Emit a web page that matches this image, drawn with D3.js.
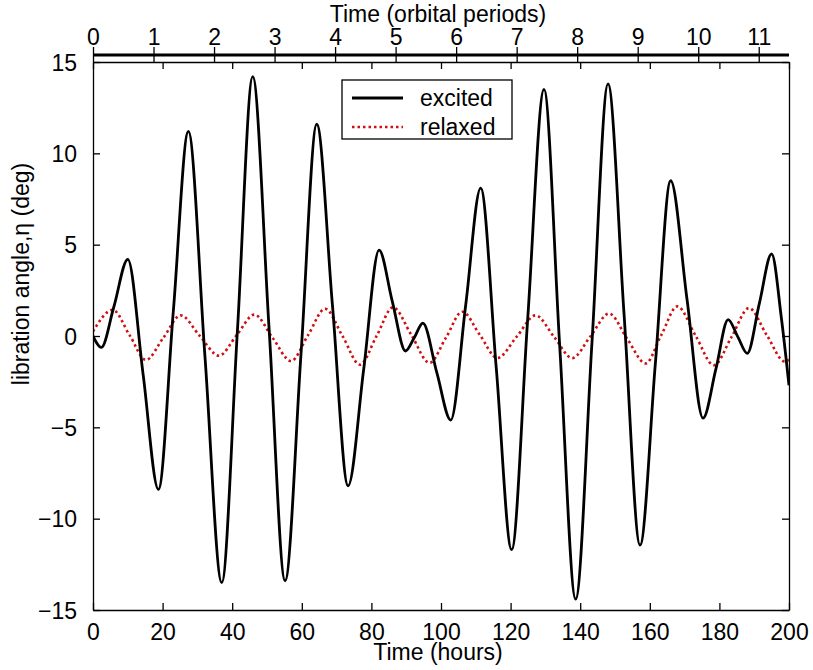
<!DOCTYPE html>
<html lang="en">
<head>
  <meta charset="UTF-8">
  <title>Libration angle</title>
  <script src="https://d3js.org/d3.v7.min.js"></script>
  <style>
    body { margin: 0; background: #fff; }
    svg { font-family: "Liberation Sans", Arial, sans-serif; }
    .axis text { font-size: 23px; fill: #000; }
    .axis path, .axis line { stroke: #000; stroke-width: 1.3px; }
    .label { font-size: 23px; fill: #000; }
  </style>
</head>
<body>
<svg width="813" height="670"></svg>
<script>
// values: [hours, degrees]
const excited = [
  [0, 0.0], [2.4, -0.62], [6.0, 1.6], [10.0, 4.2], [14.4, -2.1], [18.8, -8.4],
  [23.1, 1.4], [27.4, 11.2], [32.2, -1.2], [37.0, -13.5], [41.5, 0.3], [45.9, 14.2],
  [50.6, 0.4], [55.2, -13.4], [59.8, -0.9], [64.3, 11.6], [68.8, 1.7], [73.3, -8.2],
  [77.8, -1.8], [82.2, 4.7], [86.0, 1.9], [89.8, -0.82], [92.3, -0.1], [94.8, 0.7],
  [98.8, -2.0], [102.8, -4.6], [107.1, 1.7], [111.4, 8.1], [115.9, -1.8], [120.3, -11.7],
  [124.9, 0.9], [129.6, 13.5], [134.1, -0.5], [138.7, -14.4], [143.4, -0.3], [148.0, 13.8],
  [152.6, 1.2], [157.2, -11.45], [161.6, -1.5], [166.0, 8.5], [170.7, 2.0], [175.3, -4.5],
  [179.0, -1.8], [182.5, 0.9], [185.3, -0.05], [188.0, -0.95], [191.5, 1.8], [195.0, 4.5],
  [197.8, 1.0], [200, -2.7]
];
const relaxed = [
  [0, 0.25], [5.7, 1.43], [10.5, 0.05], [15.2, -1.31], [20.2, -0.1], [25.2, 1.13],
  [30.7, 0.0], [36.2, -1.08], [41.3, 0.05], [46.4, 1.17], [51.6, -0.1], [56.9, -1.37],
  [61.8, 0.05], [66.7, 1.49], [71.7, 0.0], [76.7, -1.57], [81.5, 0.0], [86.2, 1.57],
  [91.5, 0.05], [96.7, -1.47], [101.4, -0.1], [106.1, 1.33], [111.2, 0.05], [116.2, -1.21],
  [121.7, -0.05], [127.2, 1.13], [132.5, -0.05], [137.7, -1.21], [143.0, 0.0], [148.3, 1.23],
  [153.5, -0.15], [158.8, -1.5], [163.3, 0.05], [167.9, 1.62], [173.2, 0.0], [178.4, -1.6],
  [183.5, -0.05], [188.5, 1.53], [193.6, 0.05], [198.8, -1.4], [200, -1.3]
];
const hourTicks = [0, 20, 40, 60, 80, 100, 120, 140, 160, 180, 200];
const periodTicks = [0, 1, 2, 3, 4, 5, 6, 7, 8, 9, 10, 11];
const periodMax = 11.5;
const degTicks = [-15, -10, -5, 0, 5, 10, 15];
const seriesNames = ["excited", "relaxed"];

const svg = d3.select("svg");
const mLeft = 93, mRight = 789, mTop = 62, mBottom = 610;

const x = d3.scaleLinear().domain([0, 200]).range([mLeft, mRight]);
const xp = d3.scaleLinear().domain([0, periodMax]).range([mLeft, mRight]);
const y = d3.scaleLinear().domain([-15, 15]).range([mBottom, mTop]);

// curves
const line = d3.line().x(d => x(d[0])).y(d => y(d[1])).curve(d3.curveMonotoneX);

svg.append("clipPath").attr("id", "clip")
  .append("rect").attr("x", mLeft).attr("y", mTop)
  .attr("width", mRight - mLeft).attr("height", mBottom - mTop);

const plot = svg.append("g").attr("clip-path", "url(#clip)");
plot.append("path").datum(relaxed)
  .attr("d", line).attr("fill", "none")
  .attr("stroke", "#d01010").attr("stroke-width", 2.6)
  .attr("stroke-dasharray", "2.5,3");
plot.append("path").datum(excited)
  .attr("d", line).attr("fill", "none")
  .attr("stroke", "#000").attr("stroke-width", 2.8)
  .attr("stroke-linejoin", "round");

// box axes, ticks inside
svg.append("g").attr("class", "axis")
  .attr("transform", `translate(0,${mBottom})`)
  .call(d3.axisBottom(x).tickValues(hourTicks).tickSize(-7).tickPadding(14).tickSizeOuter(0));
svg.append("g").attr("class", "axis")
  .attr("transform", `translate(0,${mTop})`)
  .call(d3.axisTop(x).tickValues(hourTicks).tickSize(-7).tickFormat("").tickSizeOuter(0));
svg.append("g").attr("class", "axis")
  .attr("transform", `translate(${mLeft},0)`)
  .call(d3.axisLeft(y).tickValues(degTicks).tickSize(-7).tickPadding(16).tickSizeOuter(0))
  .selectAll("text").attr("dy", "0.36em");
svg.append("g").attr("class", "axis")
  .attr("transform", `translate(${mRight},0)`)
  .call(d3.axisRight(y).tickValues(degTicks).tickSize(-7).tickFormat("").tickSizeOuter(0));

// orbital period axis on top
const pAxis = svg.append("g").attr("class", "axis")
  .attr("transform", `translate(0,${mTop})`)
  .call(d3.axisTop(xp).tickValues(periodTicks).tickSize(15).tickPadding(2).tickSizeOuter(0));
pAxis.select(".domain").remove();
svg.append("line")
  .attr("x1", mLeft).attr("x2", mRight)
  .attr("y1", 55).attr("y2", 55)
  .attr("stroke", "#000").attr("stroke-width", 3);

// labels
svg.append("text").attr("class", "label")
  .attr("x", 438).attr("y", 22).attr("text-anchor", "middle")
  .text("Time (orbital periods)");
svg.append("text").attr("class", "label")
  .attr("x", 438).attr("y", 660).attr("text-anchor", "middle")
  .text("Time (hours)");
svg.append("text").attr("class", "label")
  .attr("transform", "translate(29,274) rotate(-90)")
  .attr("text-anchor", "middle")
  .text("libration angle,\u03b7 (deg)");

// legend
const legend = svg.append("g");
legend.append("rect")
  .attr("x", 342).attr("y", 80).attr("width", 170).attr("height", 59)
  .attr("fill", "#fff").attr("stroke", "#000").attr("stroke-width", 1.3);
const styles = [
  { stroke: "#000", dash: null, w: 2.8 },
  { stroke: "#d01010", dash: "2.5,3", w: 2.6 }
];
seriesNames.forEach((name, i) => {
  const ly = 98 + i * 29;
  legend.append("line")
    .attr("x1", 352).attr("x2", 403).attr("y1", ly).attr("y2", ly)
    .attr("stroke", styles[i].stroke).attr("stroke-width", styles[i].w)
    .attr("stroke-dasharray", styles[i].dash);
  legend.append("text").attr("class", "label")
    .attr("x", 420).attr("y", ly + 8).text(name);
});
</script>
</body>
</html>
